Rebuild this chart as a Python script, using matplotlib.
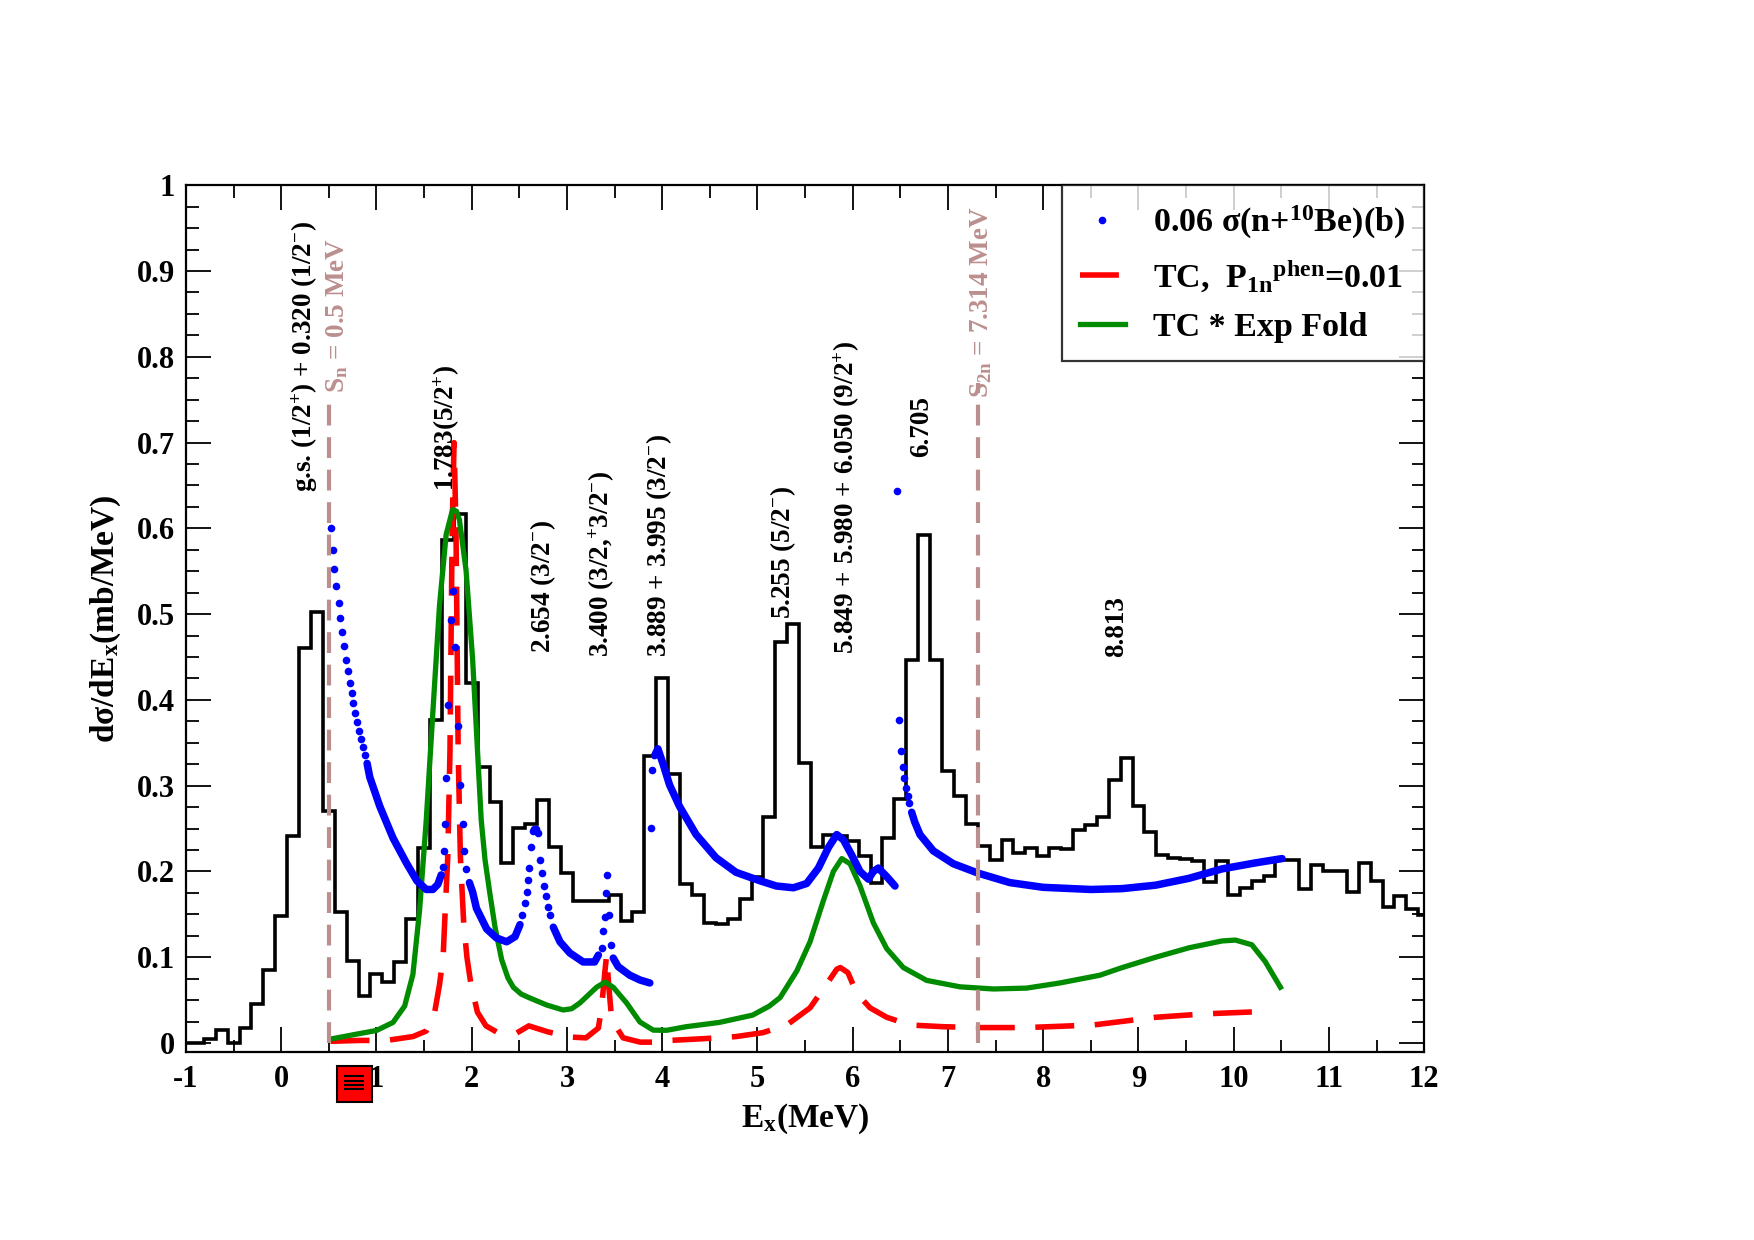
import numpy as np
import matplotlib
matplotlib.use("Agg")
import matplotlib.pyplot as plt
from matplotlib.patches import Rectangle
import matplotlib.transforms as mtransforms

plt.rcParams['font.family'] = ['Liberation Serif', 'DejaVu Serif']
plt.rcParams['font.weight'] = 'bold'
plt.rcParams['axes.labelweight'] = 'bold'
plt.rcParams['mathtext.fontset'] = 'custom'
plt.rcParams['mathtext.rm'] = 'Liberation Serif:bold'
plt.rcParams['mathtext.it'] = 'Liberation Serif:bold'
plt.rcParams['mathtext.bf'] = 'Liberation Serif:bold'
plt.rcParams['mathtext.default'] = 'rm'

# experimental histogram, bins of 0.125 MeV starting at -1.0625 MeV
bin_width = 0.125
first_edge = -1.0625
hist_vals = [0.0, 0.0, 0.005, 0.015, 0.0, 0.017, 0.045, 0.085, 0.148, 0.241,
             0.461, 0.503, 0.27, 0.153, 0.096, 0.055, 0.08, 0.071, 0.094, 0.144,
             0.227, 0.377, 0.587, 0.617, 0.42, 0.322, 0.281, 0.21, 0.251, 0.255,
             0.283, 0.228, 0.198, 0.165, 0.165, 0.165, 0.172, 0.142, 0.153, 0.335,
             0.426, 0.314, 0.185, 0.172, 0.14, 0.139, 0.145, 0.168, 0.193, 0.263,
             0.467, 0.489, 0.326, 0.228, 0.243, 0.241, 0.235, 0.218, 0.187, 0.239,
             0.284, 0.446, 0.592, 0.447, 0.317, 0.288, 0.255, 0.23, 0.213, 0.237,
             0.222, 0.227, 0.218, 0.227, 0.226, 0.248, 0.254, 0.264, 0.307, 0.332,
             0.276, 0.246, 0.219, 0.216, 0.215, 0.212, 0.188, 0.212, 0.173, 0.181,
             0.189, 0.195, 0.213, 0.213, 0.179, 0.208, 0.2, 0.2, 0.176, 0.21,
             0.189, 0.159, 0.171, 0.156, 0.149]

# 0.06 sigma(n+10Be): dense parts (drawn as thick line, NaN = gap)
blue_line_x = [0.902, 0.93, 1.035, 1.174, 1.314, 1.425, 1.523, 1.592, 1.645, 1.68, np.nan,
               1.976, 2.01, 2.05, 2.157, 2.26, 2.367, 2.455, 2.507, np.nan,
               2.857, 2.927, 3.03, 3.17, 3.29, 3.33, np.nan,
               3.486, 3.538, 3.66, 3.766, 3.87, np.nan,
               3.92, 3.955, 4.007, 4.077, 4.181, 4.356, 4.565, 4.775, 5.03, 5.2, 5.378,
               5.517, 5.64, 5.745, 5.832, 5.902, 5.99, 6.077, 6.164, 6.217, 6.269, 6.357,
               6.444, np.nan,
               6.619, 6.65, 6.706, 6.846, 7.056, 7.318, 7.65, 8.0, 8.5, 8.83, 9.18, 9.53,
               9.878, 10.228, 10.507]
blue_line_y = [0.326, 0.31, 0.276, 0.239, 0.21, 0.189, 0.179, 0.179, 0.185, 0.196, np.nan,
               0.187, 0.176, 0.157, 0.133, 0.1225, 0.118, 0.124, 0.138, np.nan,
               0.135, 0.118, 0.105, 0.0945, 0.0945, 0.1025, np.nan,
               0.099, 0.089, 0.079, 0.0735, 0.070, np.nan,
               0.335, 0.343, 0.326, 0.301, 0.276, 0.243, 0.216, 0.199, 0.189, 0.183, 0.181,
               0.186, 0.204, 0.228, 0.243, 0.237, 0.219, 0.200, 0.191, 0.200, 0.204, 0.194,
               0.183, np.nan,
               0.269, 0.258, 0.243, 0.224, 0.209, 0.198, 0.187, 0.1815, 0.179, 0.180, 0.184,
               0.192, 0.203, 0.210, 0.215]
# sparse isolated points of the same series
blue_dot_x = [0.519, 0.547, 0.557, 0.578, 0.603, 0.62, 0.638, 0.655, 0.679, 0.704, 0.721,
              0.739, 0.753, 0.774, 0.798, 0.819, 0.84, 0.861, 0.882,
              1.697, 1.714, 1.721, 1.732, 1.749, 1.784, 1.808, 1.829, 1.854, 1.878, 1.906,
              1.923, 1.941,
              2.524, 2.56, 2.577, 2.594, 2.605, 2.621, 2.639, 2.655, 2.67, 2.698, 2.717,
              2.734, 2.759, 2.78, 2.804, 2.82,
              3.364, 3.38, 3.4, 3.41, 3.416, 3.444, 3.46,
              3.885, 3.895,
              6.462, 6.486, 6.503, 6.524, 6.542, 6.559, 6.577, 6.594]
blue_dot_y = [0.600, 0.575, 0.553, 0.533, 0.513, 0.495, 0.479, 0.463, 0.446, 0.434, 0.420,
              0.408, 0.396, 0.385, 0.374, 0.364, 0.355, 0.345, 0.336,
              0.205, 0.224, 0.255, 0.309, 0.394, 0.493, 0.527, 0.462, 0.37, 0.301, 0.255,
              0.224, 0.203,
              0.149, 0.163, 0.176, 0.19, 0.204, 0.228, 0.247, 0.250, 0.249, 0.245, 0.2135,
              0.198, 0.183, 0.1715, 0.159, 0.149,
              0.111, 0.131, 0.147, 0.175, 0.196, 0.149, 0.114,
              0.251, 0.318,
              0.643, 0.376, 0.341, 0.322, 0.309, 0.297, 0.288, 0.280]

# TC, P1n^phen = 0.01
red_x = [0.519, 0.826, 1.105, 1.383, 1.523, 1.61, 1.662, 1.70, 1.714, 1.749, 1.772, 1.795,
         1.815, 1.835, 1.858, 1.881, 1.916, 1.95, 1.99, 2.06, 2.15, 2.26, 2.47, 2.6, 2.8,
         3.03, 3.2, 3.33, 3.364, 3.4, 3.416, 3.44, 3.47, 3.59, 3.77, 3.9, 4.077, 4.426,
         4.775, 5.054, 5.308, 5.552, 5.71, 5.832, 5.87, 5.95, 6.042, 6.182, 6.357, 6.6,
         6.951, 7.3, 7.825, 8.524, 9.18, 9.7, 10.37]
red_y = [0.002, 0.003, 0.003, 0.0075, 0.014, 0.035, 0.068, 0.10, 0.135, 0.218, 0.34, 0.60,
         0.70, 0.60, 0.34, 0.218, 0.14, 0.10, 0.07, 0.036, 0.02, 0.013, 0.0115, 0.02, 0.013,
         0.007, 0.006, 0.0175, 0.042, 0.085, 0.102, 0.065, 0.027, 0.006, 0.001, 0.001, 0.003,
         0.005, 0.0075, 0.012, 0.021, 0.041, 0.066, 0.086, 0.088, 0.082, 0.058, 0.041, 0.030,
         0.021, 0.019, 0.018, 0.018, 0.021, 0.030, 0.034, 0.037]

# TC * Exp Fold
green_x = [0.519, 0.756, 1.0, 1.174, 1.296, 1.383, 1.453, 1.523, 1.592, 1.662, 1.732, 1.80,
           1.84, 1.871, 1.941, 2.01, 2.06, 2.10, 2.14, 2.19, 2.245, 2.315, 2.38, 2.437, 2.52,
           2.61, 2.787, 2.96, 3.05, 3.136, 3.311, 3.4, 3.486, 3.626, 3.766, 3.906, 4.045,
           4.251, 4.6, 4.949, 5.124, 5.238, 5.413, 5.552, 5.692, 5.797, 5.885, 5.972, 6.077,
           6.217, 6.357, 6.531, 6.776, 7.126, 7.476, 7.825, 8.175, 8.594, 8.83, 9.18, 9.53,
           9.878, 10.018, 10.19, 10.33, 10.49]
green_y = [0.0046, 0.0096, 0.0146, 0.024, 0.043, 0.080, 0.155, 0.26, 0.385, 0.51, 0.593,
           0.622, 0.62, 0.61, 0.551, 0.447, 0.343, 0.26, 0.2135, 0.175, 0.135, 0.097, 0.076,
           0.065, 0.057, 0.0525, 0.0443, 0.0385, 0.040, 0.0467, 0.065, 0.071, 0.065, 0.0467,
           0.0245, 0.015, 0.0148, 0.019, 0.024, 0.0325, 0.043, 0.053, 0.084, 0.118, 0.166,
           0.200, 0.215, 0.209, 0.183, 0.140, 0.110, 0.088, 0.073, 0.0655, 0.063, 0.064,
           0.070, 0.079, 0.088, 0.100, 0.111, 0.119, 0.120, 0.1145, 0.095, 0.065]

# thresholds
sn_x, sn_top, sn_label = 0.5, 0.755, 'S$_{n}$ = 0.5 MeV'
s2n_x, s2n_top, s2n_label = 7.314, 0.77, 'S$_{2n}$ = 7.314 MeV'

# level labels (x, bottom y, text)
level_x = [0.25, 1.74, 2.75, 3.37, 3.97, 5.27, 5.94, 6.72, 8.77]
level_y = [0.642, 0.643, 0.455, 0.45, 0.45, 0.494, 0.453, 0.683, 0.45]
level_text = ['g.s. (1/2$^{+}$) + 0.320 (1/2$^{-}$)',
              '1.783(5/2$^{+}$)',
              '2.654 (3/2$^{-}$)',
              '3.400 (3/2,$^{+}$3/2$^{-}$)',
              '3.889 + 3.995 (3/2$^{-}$)',
              '5.255 (5/2$^{-}$)',
              '5.849 + 5.980 + 6.050 (9/2$^{+}$)',
              '6.705',
              '8.813']

x_ticks = list(range(-1, 13))
y_ticks = [0, 0.1, 0.2, 0.3, 0.4, 0.5, 0.6, 0.7, 0.8, 0.9, 1.0]
y_ticklabels = ['0', '0.1', '0.2', '0.3', '0.4', '0.5', '0.6', '0.7', '0.8', '0.9', '1']

fig = plt.figure(figsize=(17.54, 12.4), dpi=100)
ax = fig.add_axes([0.106, 0.1516, 0.706, 0.699])

edges = first_edge + bin_width * np.arange(len(hist_vals) + 1)
ax.stairs(hist_vals, edges, baseline=None, color='black', lw=2.6, zorder=2)

ax.plot(red_x, red_y, color='#ff0000', lw=4.0, dashes=(7.0, 3.7), zorder=3,
        label='TC,  P$_{1n}{}^{phen}$=0.01')
ax.plot(green_x, green_y, color='#008b00', lw=3.8, zorder=4, label='TC * Exp Fold')
ax.plot(blue_line_x, blue_line_y, color='#0000ff', lw=5.4, solid_capstyle='round', zorder=5)
ax.plot(blue_dot_x, blue_dot_y, 'o', color='#0000ff', ms=5.5, mec='none', zorder=5,
        label='0.06 σ(n+$^{10}$Be)(b)')

brown = '#bc8f8f'
ax.plot([sn_x, sn_x], [0, sn_top], color=brown, lw=3.0, dashes=(5.0, 2.8), zorder=6)
ax.plot([s2n_x, s2n_x], [0, s2n_top], color=brown, lw=3.0, dashes=(5.0, 2.8), zorder=6)
ax.text(sn_x + 0.085, sn_top + 0.003, sn_label, rotation=90, ha='center', va='bottom',
        color=brown, fontsize=19.5)
ax.text(s2n_x + 0.03, s2n_top - 0.018, s2n_label, rotation=90, ha='center', va='bottom',
        color=brown, fontsize=19.5)

for lx, ly, lt in zip(level_x, level_y, level_text):
    ax.text(lx, ly, lt, rotation=90, ha='center', va='bottom', fontsize=19.5)

ax.set_xlim(-1, 12)
ax.set_ylim(-0.0105, 1.0)
ax.set_xticks(x_ticks)
ax.set_xticklabels([str(v) for v in x_ticks])
ax.set_xticks(np.arange(-0.5, 12, 1.0), minor=True)
ax.set_yticks(y_ticks)
ax.set_yticklabels(y_ticklabels)
ax.set_yticks(np.arange(0, 1.0, 0.025), minor=True)
ax.tick_params(which='both', direction='in', top=True, right=True, labelsize=22)
ax.tick_params(which='major', length=18, width=1.3)
ax.tick_params(which='minor', length=9, width=1.3)
ax.tick_params(axis='x', pad=9)
ax.tick_params(axis='y', pad=8)
for sp in ax.spines.values():
    sp.set_linewidth(1.6)

ax.set_xlabel('E$_x$(MeV)', fontsize=24, fontweight='bold', labelpad=6)
ax.set_ylabel('dσ/dE$_x$(mb/MeV)', fontsize=24, fontweight='bold', labelpad=10)

handles, labels = ax.get_legend_handles_labels()
order = [2, 0, 1]
leg = ax.legend([handles[i] for i in order], [labels[i] for i in order],
                loc='upper right', bbox_to_anchor=(1.0, 1.0), borderaxespad=0,
                fontsize=24.5, frameon=True, fancybox=False, edgecolor='black',
                handlelength=1.3, handletextpad=0.85, numpoints=1, labelspacing=0.5,
                borderpad=0.55)
leg.get_frame().set_linewidth(1.6)
leg.set_zorder(10)

# small red box drawn under the x axis in the original picture
trans = mtransforms.blended_transform_factory(ax.transData, ax.transAxes)
ax.add_patch(Rectangle((0.586, -0.058), 0.369, 0.042, transform=trans, facecolor='#ff0000',
                       edgecolor='black', lw=1.5, clip_on=False, zorder=10))
for yy in [-0.0277, -0.0334, -0.0381, -0.0427]:
    ax.plot([0.669, 0.858], [yy, yy], transform=trans, color='black', lw=1.5,
            clip_on=False, zorder=11)

fig.savefig('out.png', dpi=100)
